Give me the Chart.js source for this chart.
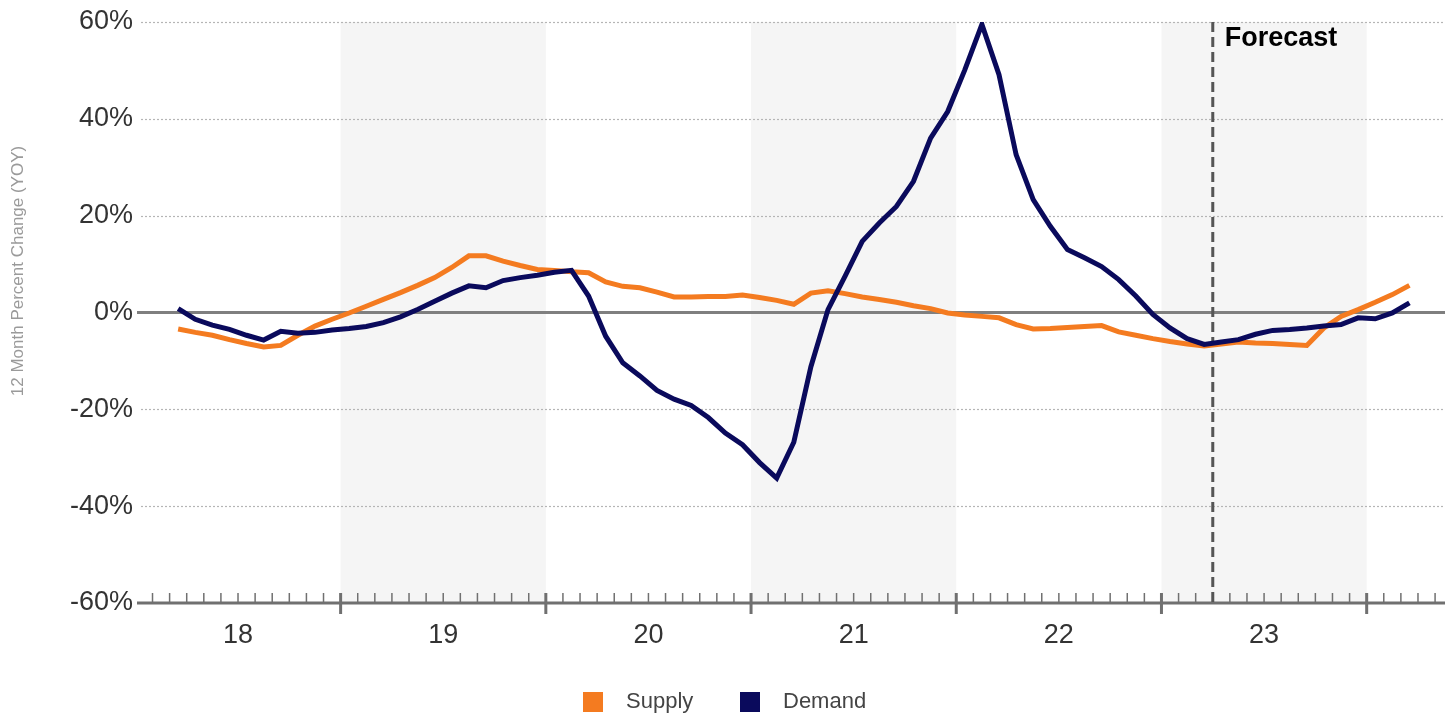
<!DOCTYPE html>
<html>
<head>
<meta charset="utf-8">
<script src="https://cdn.jsdelivr.net/npm/chart.js@4"></script>
<style>
  html, body { margin: 0; padding: 0; background: #fff; }
  #wrap { width: 1455px; height: 717px; }
</style>
</head>
<body>
<div id="wrap"><canvas id="chart" width="1455" height="717"></canvas></div>
<script>
// months counted from Jan 2018 (0); series starts Mar 2018
const startMonth = 2;
const yearLabels = ['18', '19', '20', '21', '22', '23'];
const shadedYears = [1, 3, 5];
const forecastMonth = 63; // Apr 2023
const yTicks = [-60, -40, -20, 0, 20, 40, 60];
const seriesNames = ['Supply', 'Demand'];

const supply = [
  -3.4, -4.1, -4.7, -5.6, -6.4, -7.1, -6.8, -4.7, -2.8, -1.4,
  -0.1, 1.3, 2.7, 4.1, 5.6, 7.2, 9.3, 11.7, 11.7, 10.6, 9.7, 8.9,
  8.7, 8.4, 8.2, 6.3, 5.4, 5.1, 4.2, 3.2, 3.2, 3.3, 3.3, 3.6,
  3.1, 2.5, 1.7, 4.0, 4.5, 3.9, 3.2, 2.7, 2.1, 1.4, 0.8, -0.1,
  -0.5, -0.8, -1.1, -2.5, -3.4, -3.3, -3.1, -2.9, -2.7, -4.0, -4.7, -5.4,
  -6.0, -6.5, -6.9, -6.5, -6.1, -6.3, -6.4, -6.6, -6.8, -3.2, -0.8, 0.6,
  2.1, 3.7, 5.6
];
const demand = [
  0.8, -1.4, -2.6, -3.5, -4.7, -5.7, -3.9, -4.3, -4.1, -3.6,
  -3.3, -2.9, -2.1, -0.9, 0.6, 2.3, 4.0, 5.5, 5.1, 6.6, 7.2, 7.7,
  8.3, 8.7, 3.4, -4.9, -10.4, -13.1, -16.1, -17.9, -19.2, -21.7, -24.9, -27.3,
  -31.0, -34.2, -26.8, -11.2, 0.6, 7.5, 14.7, 18.5, 21.9, 27.1, 36.0, 41.5,
  50.1, 59.5, 49.1, 32.6, 23.3, 17.8, 13.0, 11.3, 9.5, 6.8, 3.4, -0.4,
  -3.2, -5.4, -6.6, -6.1, -5.6, -4.5, -3.7, -3.5, -3.2, -2.8, -2.5, -1.1,
  -1.3, -0.1, 2.0
];

const FONT = '"Liberation Sans", Arial, sans-serif';
const orange = '#f47b20';
const navy = '#0a0a5c';

const toPoints = arr => arr.map((v, k) => ({ x: startMonth + k + 0.5, y: v }));

const backdrop = {
  id: 'backdrop',
  beforeDatasetsDraw(chart) {
    const { ctx, chartArea: a, scales: { x, y } } = chart;
    ctx.save();
    // alternate year shading
    ctx.fillStyle = '#f5f5f5';
    shadedYears.forEach(k => {
      const x0 = Math.max(a.left, x.getPixelForValue(12 * k));
      const x1 = Math.min(a.right, x.getPixelForValue(12 * (k + 1)));
      ctx.fillRect(x0, a.top, x1 - x0, a.bottom - a.top);
    });
    // dotted grid
    yTicks.forEach(v => {
      const py = Math.round(y.getPixelForValue(v)) + 0.5;
      if (v === 0 || v === -60) return;
      ctx.strokeStyle = '#b5b5b5';
      ctx.lineWidth = 1.2;
      ctx.setLineDash([2, 2]);
      ctx.beginPath();
      ctx.moveTo(a.left, py);
      ctx.lineTo(a.right, py);
      ctx.stroke();
    });
    ctx.setLineDash([]);
    // zero line
    const y0 = y.getPixelForValue(0);
    ctx.strokeStyle = '#7f7f7f';
    ctx.lineWidth = 3;
    ctx.beginPath();
    ctx.moveTo(a.left - 4, y0);
    ctx.lineTo(a.right, y0);
    ctx.stroke();
    // x axis line and ticks
    const yb = y.getPixelForValue(-60);
    ctx.strokeStyle = '#707070';
    ctx.beginPath();
    ctx.moveTo(a.left - 4, yb);
    ctx.lineTo(a.right, yb);
    ctx.stroke();
    for (let m = 1; m < 77; m++) {
      const px = x.getPixelForValue(m);
      if (px < a.left || px > a.right) continue;
      const major = m % 12 === 0;
      ctx.lineWidth = major ? 3 : 1.5;
      ctx.beginPath();
      ctx.moveTo(px, yb - 10);
      ctx.lineTo(px, major ? yb + 11 : yb);
      ctx.stroke();
    }
    // forecast marker
    const fx = x.getPixelForValue(forecastMonth);
    ctx.strokeStyle = '#555';
    ctx.lineWidth = 3;
    ctx.setLineDash([10, 5]);
    ctx.beginPath();
    ctx.moveTo(fx, a.top);
    ctx.lineTo(fx, yb);
    ctx.stroke();
    ctx.setLineDash([]);
    ctx.fillStyle = '#000';
    ctx.font = 'bold 27px ' + FONT;
    ctx.textAlign = 'left';
    ctx.textBaseline = 'middle';
    ctx.fillText('Forecast', fx + 12, a.top + 17);
    ctx.restore();
  },
  afterDraw(chart) {
    const { ctx } = chart;
    ctx.save();
    // y axis title
    ctx.translate(18, 271);
    ctx.rotate(-Math.PI / 2);
    ctx.fillStyle = '#9a9a9a';
    ctx.font = '17px ' + FONT;
    ctx.textAlign = 'center';
    ctx.textBaseline = 'middle';
    ctx.fillText('12 Month Percent Change (YOY)', 0, 0);
    ctx.restore();
    // legend
    ctx.save();
    ctx.font = '22px ' + FONT;
    ctx.textBaseline = 'middle';
    ctx.textAlign = 'left';
    const items = [[seriesNames[0], orange, 583], [seriesNames[1], navy, 740]];
    items.forEach(([name, col, lx]) => {
      ctx.fillStyle = col;
      ctx.fillRect(lx, 692, 20, 20);
      ctx.fillStyle = '#444';
      ctx.fillText(name, lx + 43, 702);
    });
    ctx.restore();
  }
};

const ctx = document.getElementById('chart').getContext('2d');
new Chart(ctx, {
  type: 'line',
  data: {
    datasets: [
      { label: seriesNames[0], data: toPoints(supply), borderColor: orange, backgroundColor: orange, borderWidth: 5, pointRadius: 0, tension: 0, order: 2 },
      { label: seriesNames[1], data: toPoints(demand), borderColor: navy, backgroundColor: navy, borderWidth: 5, pointRadius: 0, tension: 0, order: 1 }
    ]
  },
  options: {
    responsive: false,
    animation: false,
    layout: { padding: { top: 22, right: 10, left: 0, bottom: 0 } },
    plugins: { legend: { display: false }, tooltip: { enabled: false } },
    scales: {
      x: {
        type: 'linear',
        min: 0.327,
        max: 76.58,
        afterBuildTicks(s) { s.ticks = yearLabels.map((l, k) => ({ value: 12 * k + 6 })); },
        ticks: {
          autoSkip: false, maxRotation: 0, padding: 8, color: '#333',
          font: { size: 27, family: FONT },
          callback: v => yearLabels[Math.round((v - 6) / 12)]
        },
        grid: { display: false },
        border: { display: false },
        afterFit(s) { s.height = 114; }
      },
      y: {
        min: -60, max: 60,
        ticks: { stepSize: 20, padding: 0, color: '#333', font: { size: 27, family: FONT }, callback: v => v + '%' },
        grid: { display: false },
        border: { display: false },
        afterFit(s) { s.width = 141; }
      }
    }
  },
  plugins: [backdrop]
});
</script>
</body>
</html>
